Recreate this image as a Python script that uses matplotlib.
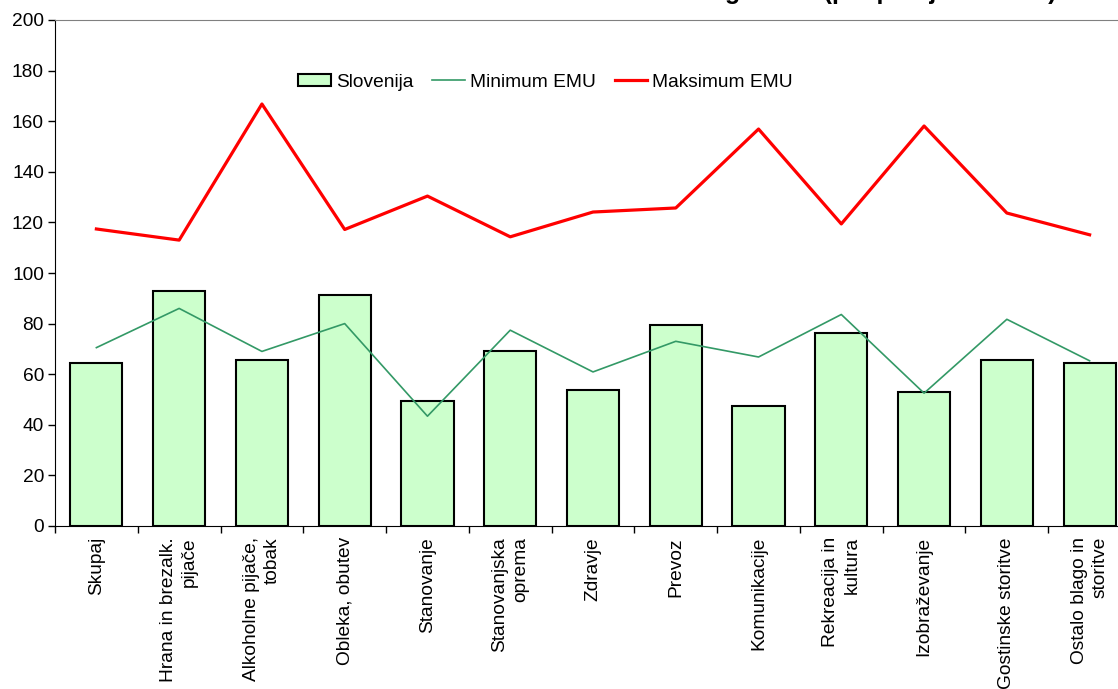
import numpy as np
import matplotlib.pyplot as plt

plt.rcParams['font.family'] = ['Liberation Sans', 'DejaVu Sans']

categories = ['Skupaj', 'Hrana in brezalk.\npijače', 'Alkoholne pijače,\ntobak',
              'Obleka, obutev', 'Stanovanje', 'Stanovanjska\noprema', 'Zdravje',
              'Prevoz', 'Komunikacije', 'Rekreacija in\nkultura', 'Izobraževanje',
              'Gostinske storitve', 'Ostalo blago in\nstoritve']
slovenija = [64.3, 93.0, 65.6, 91.2, 49.5, 69.2, 53.7, 79.3, 47.5, 76.4, 53.1, 65.7, 64.3]
min_emu = [70.5, 86.0, 69.0, 80.0, 43.4, 77.4, 60.9, 73.0, 66.8, 83.6, 52.5, 81.7, 65.3]
max_emu = [117.4, 113.0, 166.8, 117.2, 130.4, 114.3, 124.1, 125.7, 156.9, 119.4, 158.1, 123.7, 115.1]
yticks = [0, 20, 40, 60, 80, 100, 120, 140, 160, 180, 200]

x = np.arange(len(categories))
fs = 13.8

fig = plt.figure(figsize=(11.18, 6.89), dpi=100)
# plot area runs past the right edge, like the cropped original
ax = fig.add_axes([55/1118, 163/689, 1076/1118, 506/689])

bars = ax.bar(x, slovenija, width=0.63, color='#ccffcc', edgecolor='black', linewidth=1.5,
              label='Slovenija', zorder=2)
l_min, = ax.plot(x, min_emu, color='#339966', linewidth=1.2, label='Minimum EMU', zorder=3)
l_max, = ax.plot(x, max_emu, color='#ff0000', linewidth=2.3, label='Maksimum EMU', zorder=3)

ax.set_xlim(-0.5, len(categories) - 0.5)
ax.set_ylim(0, 200)
ax.set_yticks(yticks)
ax.tick_params(axis='y', direction='out', length=5, width=1, labelsize=fs, pad=3)

# ticks between categories, labels at centres
ax.set_xticks(np.arange(len(categories) + 1) - 0.5)
ax.set_xticklabels([])
ax.tick_params(axis='x', which='major', direction='out', length=5, width=1)
ax.set_xticks(x, minor=True)
ax.set_xticklabels(categories, minor=True, rotation=90, fontsize=fs,
                   va='top', ha='center', multialignment='right', linespacing=1.3)
ax.tick_params(axis='x', which='minor', length=0, pad=8)

ax.spines['top'].set_color('#808080')
ax.spines['left'].set_color('black')
ax.spines['bottom'].set_color('black')
ax.spines['right'].set_visible(False)

ax.legend(handles=[bars, l_min, l_max], loc='center', bbox_to_anchor=(0.456, 0.877),
          ncol=3, frameon=False, fontsize=fs, handlelength=1.7, handleheight=0.6,
          handletextpad=0.25, columnspacing=1.0)

# title cut off by the top edge, only descenders remain
fig.text(1056/1118, 1 + 0.5/689, 'Ravni cen blaga 2005 (povprečje EU=100)',
         ha='right', va='baseline', fontsize=18, fontweight='bold')

fig.savefig('out.png', dpi=100)
